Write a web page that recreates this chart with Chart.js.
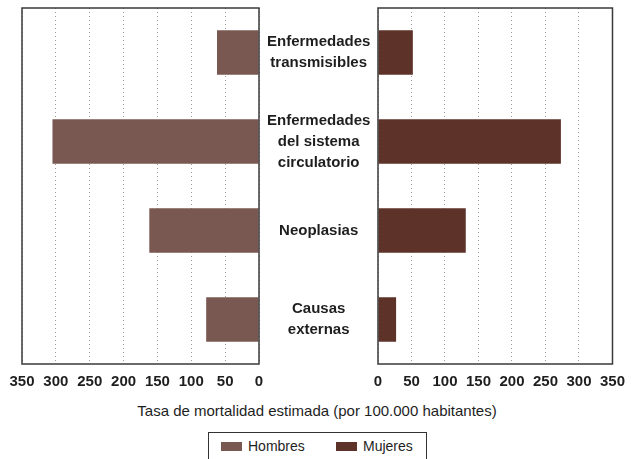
<!DOCTYPE html>
<html lang="es">
<head>
<meta charset="utf-8">
<script src="https://cdn.jsdelivr.net/npm/chart.js@4"></script>
<style>
  html,body{margin:0;padding:0;background:#fff;}
  #wrap{position:relative;width:634px;height:459px;overflow:hidden;font-family:"Liberation Sans",Arial,sans-serif;color:#1e1e1e;}
  #left{position:absolute;left:0;top:0;width:378px;height:400px;}
  #right{position:absolute;left:360px;top:0;width:274px;height:400px;}
  #axTitle{position:absolute;left:0;width:634px;top:402px;text-align:center;font-size:15px;}
  #legend{position:absolute;left:208px;top:432px;width:219px;height:32px;border:1.5px solid #333;box-sizing:border-box;font-size:14px;}
  .legend-item{position:absolute;top:5px;display:flex;align-items:center;}
  .legend-color{display:inline-block;width:21px;height:9px;margin-right:6px;}
</style>
</head>
<body>
<div id="wrap">
  <div id="left"><canvas id="cLeft"></canvas></div>
  <div id="right"><canvas id="cRight"></canvas></div>
  <div id="axTitle">Tasa de mortalidad estimada (por 100.000 habitantes)</div>
  <div id="legend"></div>
</div>
<script>
const CATEGORIES = [
  ["Enfermedades","transmisibles"],
  ["Enfermedades","del sistema","circulatorio"],
  ["Neoplasias"],
  ["Causas","externas"]
];
const HOMBRES = [62, 305, 162, 78];
const MUJERES = [52, 273, 131, 27];
const X_MIN = 0, X_MAX = 350, X_STEP = 50;
const SERIES_NAMES = ["Hombres", "Mujeres"];
const SERIES_COLORS = ["#7a5852", "#5c3229"];

const FONT = "'Liberation Sans',Arial,sans-serif";
const $ = id=>document.getElementById(id);

// marco completo alrededor del area del grafico
const frame = {
  id:"frame",
  afterDraw(chart){
    const a = chart.chartArea, ctx = chart.ctx;
    ctx.save();
    ctx.strokeStyle = "#3a3a3a";
    ctx.lineWidth = 1.5;
    ctx.strokeRect(a.left, a.top, a.right-a.left, a.bottom-a.top);
    ctx.restore();
  }
};

// eje x con rejilla punteada (en v4 el trazo va en border.dash)
function xScale(reverse){
  return {
    type:"linear", min:X_MIN, max:X_MAX, reverse,
    ticks:{ stepSize:X_STEP, color:"#1e1e1e", padding:9, maxRotation:0, minRotation:0, autoSkip:false,
            font:{family:FONT, size:15, weight:"bold"} },
    grid:{ color:"#9a9a9a", lineWidth:1, drawTicks:false },
    border:{ display:false, dash:[1,3] },
    afterFit(s){ s.height = 36; }
  };
}

function barSet(label, data, color){
  return { label, data, backgroundColor:color, barPercentage:1, categoryPercentage:0.5 };
}

// ===== Hombres (izquierda) =====
new Chart($("cLeft"), {
  type:"bar",
  data:{ labels:CATEGORIES, datasets:[barSet(SERIES_NAMES[0], HOMBRES, SERIES_COLORS[0])] },
  options:{
    indexAxis:"y", responsive:true, maintainAspectRatio:false, animation:false,
    layout:{ padding:{ left:22, top:8, right:0, bottom:0 } },
    plugins:{ legend:{display:false}, tooltip:{enabled:false} },
    scales:{
      x:xScale(true),
      y:{
        position:"right",
        grid:{display:false}, border:{display:false},
        ticks:{ crossAlign:"center", color:"#1e1e1e", padding:0, font:{family:FONT, size:15, weight:"bold", lineHeight:1.4} },
        afterFit(s){ s.width = 119; s.paddingTop = 0; s.paddingBottom = 0; }
      }
    }
  },
  plugins:[frame]
});

// ===== Mujeres (derecha) =====
new Chart($("cRight"), {
  type:"bar",
  data:{ labels:CATEGORIES, datasets:[barSet(SERIES_NAMES[1], MUJERES, SERIES_COLORS[1])] },
  options:{
    indexAxis:"y", responsive:true, maintainAspectRatio:false, animation:false,
    layout:{ padding:{ left:18, top:8, right:16, bottom:0 } },
    plugins:{ legend:{display:false}, tooltip:{enabled:false} },
    scales:{
      x:xScale(false),
      y:{ display:false }
    }
  },
  plugins:[frame]
});

// leyenda HTML
const lefts = [12, 127];
$("legend").innerHTML = SERIES_NAMES.map((n,i)=>`
  <div class="legend-item" style="left:${lefts[i]}px">
    <span class="legend-color" style="background:${SERIES_COLORS[i]}"></span><span>${n}</span>
  </div>`).join("");
</script>
</body>
</html>
